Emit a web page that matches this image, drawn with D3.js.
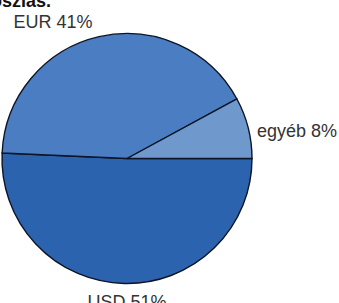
<!DOCTYPE html>
<html>
<head>
<meta charset="utf-8">
<script src="https://cdn.jsdelivr.net/npm/d3@7"></script>
<style>
  body { margin: 0; background: white; }
  svg { display: block; }
</style>
</head>
<body>
<div id="chart"></div>
<script>
var W = 339, H = 303;

// data
let categories = ["USD", "EUR", "egyéb"];
let shares = [50.7, 41.4, 7.9];
let colorPalette = ["#2c63af", "#4a7dc1", "#6f98cd"];
let titleText = "megoszlás.";

let cx = 127, cy = 158.5, radius = 125;

var svg = d3
  .select("#chart")
  .append("svg")
  .attr("width", W)
  .attr("height", H)
  .style("background-color", "white");

let data = categories.map((c, i) => ({ name: c, value: shares[i] }));

let colorScale = d3.scaleOrdinal().domain(categories).range(colorPalette);

// pie starts at 3 o'clock, goes clockwise
let pie = d3
  .pie()
  .sort(null)
  .value((d) => d.value)
  .startAngle(Math.PI / 2)
  .endAngle(Math.PI / 2 + 2 * Math.PI);

let arc = d3.arc().innerRadius(0).outerRadius(radius);

let g = svg.append("g").attr("transform", "translate(" + cx + "," + cy + ")");

g.selectAll("path")
  .data(pie(data))
  .join("path")
  .attr("d", arc)
  .style("fill", (d) => colorScale(d.data.name))
  .style("stroke", "#0d1526")
  .style("stroke-width", 1.4);

// label placement (x offset, y offset from centre, anchor)
let labelPos = {
  USD: [0, 149, "middle"],
  EUR: [-74, -131, "middle"],
  egyéb: [130, -22, "start"],
};

g.selectAll(".label")
  .data(pie(data))
  .join("text")
  .attr("class", "label")
  .attr("x", (d) => labelPos[d.data.name][0])
  .attr("y", (d) => labelPos[d.data.name][1])
  .attr("text-anchor", (d) => labelPos[d.data.name][2])
  .style("font-family", "'Liberation Sans', Arial, sans-serif")
  .style("font-size", "18px")
  .style("fill", "#333")
  .text((d) => d.data.name + " " + d3.format(".0f")(d.data.value) + "%");

// title, mostly cut off at the top left
svg
  .append("text")
  .attr("x", 51)
  .attr("y", 7)
  .attr("text-anchor", "end")
  .style("font-family", "'Liberation Sans', Arial, sans-serif")
  .style("font-size", "18px")
  .style("font-weight", "bold")
  .style("fill", "#111")
  .text(titleText);
</script>
</body>
</html>
